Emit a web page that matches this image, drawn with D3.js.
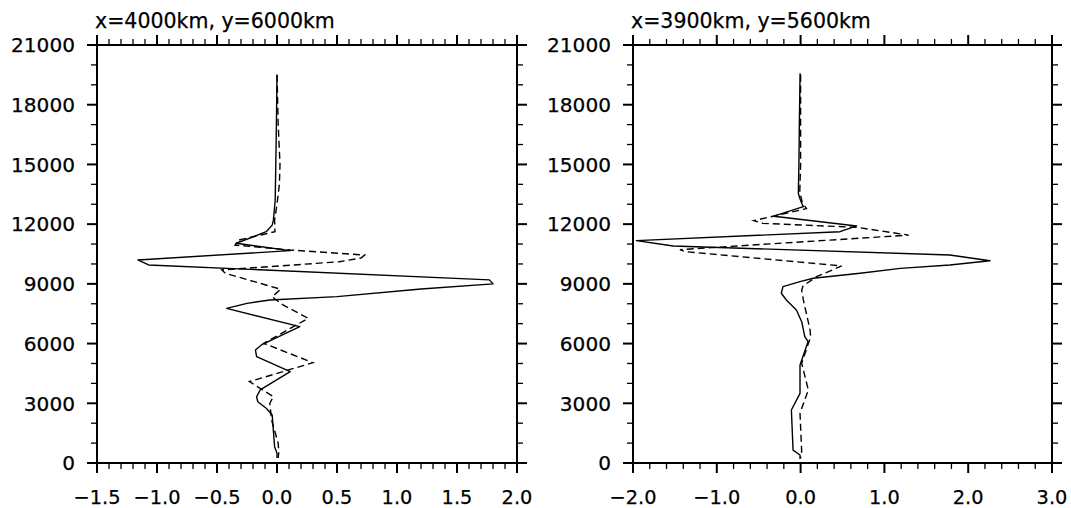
<!DOCTYPE html>
<html><head><meta charset="utf-8">
<script src="https://cdn.jsdelivr.net/npm/d3@7"></script>
<style>body{margin:0;background:#fff}svg{display:block}text{font-family:"DejaVu Sans",sans-serif;fill:#000;stroke:#000;stroke-width:0.25px}</style>
</head><body>
<script>
// ---- data ----
const heightTicks = [0, 3000, 6000, 9000, 12000, 15000, 18000, 21000];
const leftTitle = "x=4000km, y=6000km";
const rightTitle = "x=3900km, y=5600km";
const leftXTicks = [-1.5, -1.0, -0.5, 0.0, 0.5, 1.0, 1.5, 2.0];
const rightXTicks = [-2.0, -1.0, 0.0, 1.0, 2.0, 3.0];

const leftSolidV = [0.00,-0.005,-0.01,-0.015,-0.03,-0.04,-0.09,-0.34,0.11,-1.16,-1.07,1.77,1.80,1.2,0.5,-0.06,-0.25,-0.42,0.19,-0.13,-0.18,-0.17,0.11,-0.14,-0.17,-0.16,-0.09,-0.04,-0.035,-0.02,0.0,0.0];
const leftSolidH = [19500,17000,15000,13200,12200,11950,11620,11040,10670,10200,9950,9200,9000,8740,8360,8190,8020,7770,6850,5930,5680,5340,4590,3670,3330,3080,2750,2410,2000,820,490,250];

const leftDashV = [0.0,0.01,0.025,0.02,0.0,-0.02,-0.017,-0.32,-0.35,0.11,0.52,0.73,0.70,0.52,-0.46,-0.43,0.03,-0.04,0.05,0.26,-0.11,0.30,-0.23,-0.03,-0.06,-0.045,0.01,0.015,0.01];
const leftDashH = [19500,17000,15000,14000,13000,12200,11620,11200,10950,10700,10535,10450,10300,10110,9700,9530,8730,8350,7940,7270,6010,5040,4090,3330,3000,2160,990,550,250];

const rightSolidV = [-0.006,-0.015,-0.02,-0.027,-0.01,0.013,0.033,-0.32,0.67,0.47,-1.96,-1.52,1.78,2.26,1.78,1.19,0.71,0.15,-0.007,-0.21,-0.23,-0.17,-0.05,0.013,0.05,0.09,-0.007,-0.007,-0.11,-0.09,-0.007,-0.007];
const rightSolidH = [19580,17000,15000,13550,13300,13050,12880,12400,11910,11620,11170,10900,10450,10160,9950,9780,9530,9280,9110,8860,8530,8190,7690,7100,6350,6100,4920,3500,2660,650,400,200];

const rightDashV = [0.0,0.0,-0.01,0.02,0.07,-0.56,-0.45,0.67,1.29,-1.44,-1.38,0.49,0.19,0.03,0.013,0.033,0.113,0.12,0.013,0.092,-0.007,0.013,0.0];
const rightDashH = [19500,15000,13600,13100,12780,12175,12040,11840,11450,10720,10620,9900,9360,8900,8690,8190,6680,6345,5010,3670,2500,570,250];

// ---- drawing ----
const W = 1071, H = 508;
const svg = d3.select("body").append("svg").attr("width", W).attr("height", H);
const yScale = d3.scaleLinear().domain([0, 21000]).range([463, 45]);

function fitSize(sample, target) {
  const t = svg.append("text").attr("font-size", 20).text(sample);
  const w = t.node().getComputedTextLength();
  t.remove();
  return 20 * target / w;
}
const fsY = fitSize("21000", 64);
const fsX = fitSize("\u22121.5", 47);
const fsT = fitSize(leftTitle, 240);

function panel(opts) {
  const x = d3.scaleLinear().domain(opts.domain).range(opts.range);
  const g = svg.append("g");
  const [x0, x1] = opts.range, [yb, yt] = yScale.range();
  const fmt = d3.format(".1f");
  const majT = 10, minT = 6;
  const minorX = d3.range(opts.domain[0], opts.domain[1] + 1e-9, opts.minor);
  const minorY = d3.range(0, 21000 + 1, 1000);
  const tk = g.append("g").attr("stroke", "#000");
  minorX.forEach(v => {
    const isMaj = Math.abs(v / opts.major - Math.round(v / opts.major)) < 1e-6;
    const L = isMaj ? majT : minT;
    const px = x(v);
    tk.append("line").attr("x1", px).attr("x2", px).attr("y1", yb).attr("y2", yb + L).attr("stroke-width", isMaj ? 2 : 1.3);
    tk.append("line").attr("x1", px).attr("x2", px).attr("y1", yt).attr("y2", yt - L).attr("stroke-width", isMaj ? 2 : 1.3);
  });
  minorY.forEach(v => {
    const isMaj = v % 3000 === 0;
    const L = isMaj ? majT : minT;
    const py = yScale(v);
    tk.append("line").attr("x1", x0).attr("x2", x0 - L).attr("y1", py).attr("y2", py).attr("stroke-width", isMaj ? 2 : 1.3);
    tk.append("line").attr("x1", x1).attr("x2", x1 + L).attr("y1", py).attr("y2", py).attr("stroke-width", isMaj ? 2 : 1.3);
  });
  g.append("rect").attr("x", x0).attr("y", yt).attr("width", x1 - x0).attr("height", yb - yt)
    .attr("fill", "none").attr("stroke", "#000").attr("stroke-width", 2);
  g.selectAll(".xl").data(opts.ticks).enter().append("text")
    .attr("x", d => x(d)).attr("y", 504).attr("text-anchor", "middle")
    .attr("font-size", fsX).text(d => fmt(d));
  g.selectAll(".yl").data(heightTicks).enter().append("text")
    .attr("x", x0 - 22).attr("y", d => yScale(d)).attr("dy", "0.36em").attr("text-anchor", "end")
    .attr("font-size", fsY).text(d => d);
  g.append("text").attr("x", x0 - 2).attr("y", 28).attr("font-size", fsT).text(opts.title);
  const line = d3.line().x(d => x(d[0])).y(d => yScale(d[1]));
  g.append("path").datum(d3.zip(opts.solidV, opts.solidH)).attr("d", line)
    .attr("fill", "none").attr("stroke", "#000").attr("stroke-width", 1.4).attr("stroke-linejoin", "round");
  g.append("path").datum(d3.zip(opts.dashV, opts.dashH)).attr("d", line)
    .attr("fill", "none").attr("stroke", "#000").attr("stroke-width", 1.4).attr("stroke-dasharray", "7,4");
}

panel({domain: [-1.5, 2.0], range: [97, 517], major: 0.5, minor: 0.1, ticks: leftXTicks, title: leftTitle,
  solidV: leftSolidV, solidH: leftSolidH, dashV: leftDashV, dashH: leftDashH});
panel({domain: [-2.0, 3.0], range: [633, 1052], major: 1.0, minor: 0.2, ticks: rightXTicks, title: rightTitle,
  solidV: rightSolidV, solidH: rightSolidH, dashV: rightDashV, dashH: rightDashH});
</script>
</body></html>
